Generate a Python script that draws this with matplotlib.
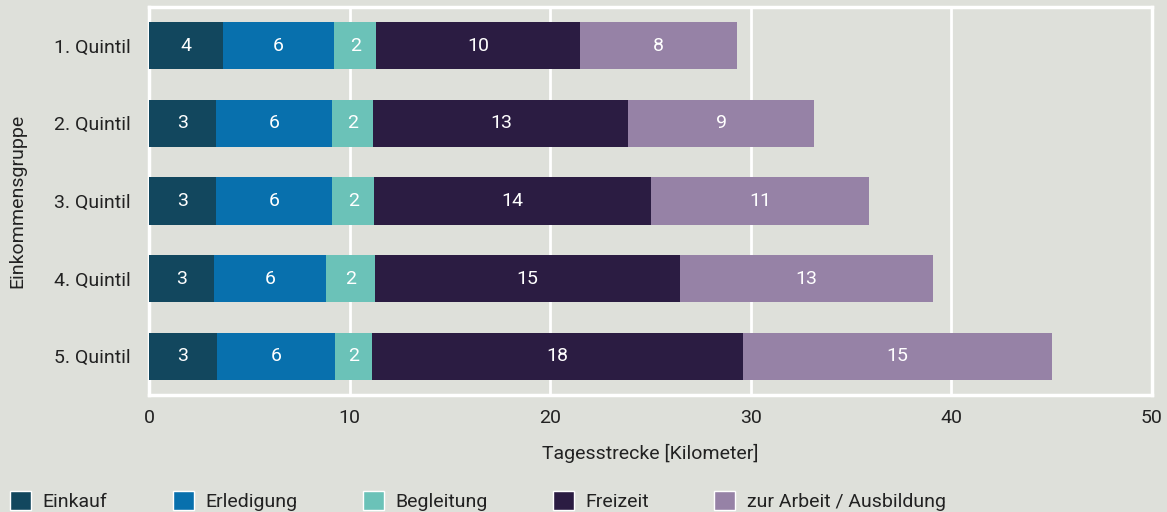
import matplotlib
matplotlib.use("Agg")
import matplotlib.pyplot as plt
from matplotlib.patches import Patch

categories = ["1. Quintil", "2. Quintil", "3. Quintil", "4. Quintil", "5. Quintil"]
series_names = ["Einkauf", "Erledigung", "Begleitung", "Freizeit", "zur Arbeit / Ausbildung"]
einkauf = [3.69, 3.34, 3.34, 3.24, 3.39]
erledigung = [5.54, 5.79, 5.79, 5.59, 5.89]
begleitung = [2.10, 2.05, 2.10, 2.45, 1.85]
freizeit = [10.18, 12.72, 13.79, 15.17, 18.46]
arbeit = [7.78, 9.23, 10.86, 12.62, 15.42]
colors = ["#12475e", "#0870ad", "#6bc2b8", "#2b1c42", "#9682a6"]
xticks = [0, 10, 20, 30, 40, 50]

bg = "#dee0da"
txt = "#222222"
fs = 14
plt.rcParams['font.family'] = ['Roboto', 'DejaVu Sans']

fig = plt.figure(figsize=(11.67, 5.12), dpi=100, facecolor=bg)
ax = fig.add_axes([149/1167, 1-395/512, (1152-149)/1167, (395-7)/512])
ax.set_facecolor(bg)

series = [einkauf, erledigung, begleitung, freizeit, arbeit]
ypos = list(range(len(categories)))
left = [0.0]*len(categories)
for vals, name, col in zip(series, series_names, colors):
    bars = ax.barh(ypos, vals, left=left, height=0.61, color=col, label=name, zorder=3)
    for b, v in zip(bars, vals):
        ax.text(b.get_x() + b.get_width()/2, b.get_y() + b.get_height()/2, f"{round(v):d}",
                ha='center', va='center', color='white', fontsize=fs, zorder=4)
    left = [l + v for l, v in zip(left, vals)]

ax.set_ylim(4.5, -0.5)
ax.set_xlim(0, 50)
ax.set_xticks(xticks)
ax.set_xticklabels([str(t) for t in xticks])
ax.set_yticks(ypos)
ax.set_yticklabels(categories)
ax.tick_params(axis='both', length=0, labelsize=fs, colors=txt)
ax.tick_params(axis='y', pad=13)
ax.tick_params(axis='x', pad=10)
ax.xaxis.grid(True, color='white', linewidth=2, zorder=0)
ax.set_axisbelow(True)
for s in ax.spines.values():
    s.set_color('white')
    s.set_linewidth(2.5)
ax.set_xlabel("Tagesstrecke [Kilometer]", fontsize=fs, color=txt, labelpad=12)
ax.set_ylabel("Einkommensgruppe", fontsize=fs, color=txt, labelpad=20)

handles = [Patch(facecolor=c, edgecolor='white', linewidth=1) for c in colors]
fig.legend(handles, series_names, loc='center left', bbox_to_anchor=(0.0, 11/512),
           ncol=5, frameon=False, fontsize=fs, handlelength=1.08, handleheight=1.08,
           handletextpad=0.6, columnspacing=3.35, labelcolor=txt, borderaxespad=0.12)

fig.savefig("out.png", dpi=100, facecolor=bg)
